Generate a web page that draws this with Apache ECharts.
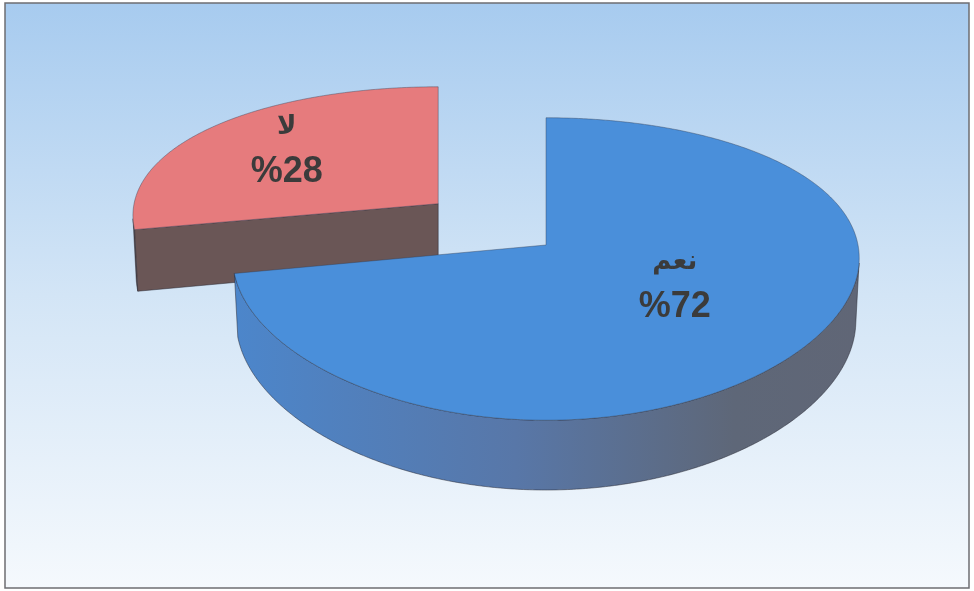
<!DOCTYPE html>
<html>
<head>
<meta charset="utf-8">
<script src="https://cdn.jsdelivr.net/npm/echarts@6/dist/echarts.min.js"></script>
<style>
html, body { margin: 0; padding: 0; background: #fff; }
#main { width: 974px; height: 591px; }
</style>
</head>
<body>
<div id="main"></div>
<script>
// data
var categories = ['نعم', 'لا'];
var values = [72, 28];
var percentLabels = ['%72', '%28'];

// 3D pie look (projection of a flat disk seen from above)
var CX = 546, CY = 245;      // where the pie centre lands
var SCALE = 312;             // half width of the pie
var PX = 0.1, PY = 0.18;     // perspective strength, horizontal / vertical
var ELEV = 28.2 * Math.PI / 180;
var DEPTH = 0.231;           // thickness, in radii
var sinE = Math.sin(ELEV), cosE = Math.cos(ELEV);

var explode = [0, 0.46];
var labelR = [0.52, 0.67];
var labelDY = [-11, 1];
var topColors = ['#4a8fda', '#e67b7d'];
var faceColors = ['#52709f', '#6a5656'];
var wallStops = [
    [{ offset: 0, color: '#4c86cb' }, { offset: 0.45, color: '#5877a8' }, { offset: 0.8, color: '#5e6778' }, { offset: 1, color: '#606676' }],
    [{ offset: 0, color: '#6a5656' }, { offset: 1, color: '#6a5656' }]
];

// (ou, ov): slice offset, (u, v, w): point relative to the slice apex
function project(ou, ov, u, v, w) {
    var d = (ov + v) * cosE - w * sinE;
    return [
        CX + SCALE * (ou / (1 + PX * ov * cosE) + u / (1 + PX * d)),
        CY - SCALE * ((ov + v) * sinE + w * cosE) / (1 + PY * d)
    ];
}

function area(pts) {
    var s = 0;
    for (var i = 0; i < pts.length; i++) {
        var p = pts[i], q = pts[(i + 1) % pts.length];
        s += p[0] * q[1] - q[0] * p[1];
    }
    return s / 2;
}

// winding of a wall piece that faces the viewer (front of the pie)
var FRONT = (function () {
    var a = Math.PI, b = Math.PI + 0.05;
    return area([project(0, 0, Math.sin(a), Math.cos(a), 0), project(0, 0, Math.sin(b), Math.cos(b), 0),
        project(0, 0, Math.sin(b), Math.cos(b), -DEPTH), project(0, 0, Math.sin(a), Math.cos(a), -DEPTH)]) > 0;
})();

function faces(pts) {
    var s = area(pts);
    return Math.abs(s) > 0.5 && (s > 0) === FRONT;
}

var total = 0;
for (var i = 0; i < values.length; i++) total += values[i];

function renderItem(params, api) {
    var idx = params.dataIndex;
    var before = 0;
    for (var j = 0; j < idx; j++) before += values[j];
    var a0 = before / total * Math.PI * 2;
    var a1 = (before + values[idx]) / total * Math.PI * 2;
    var mid = (a0 + a1) / 2;
    var ou = explode[idx] * Math.sin(mid), ov = explode[idx] * Math.cos(mid);
    var base = Math.round((2 - ov) * 10);
    var children = [];
    var edge = 'rgba(40,40,50,0.5)';

    function rim(a, w) {
        return project(ou, ov, Math.sin(a), Math.cos(a), w);
    }
    function apex(w) {
        return project(ou, ov, 0, 0, w);
    }

    // outer wall, only the parts facing the viewer
    var steps = Math.ceil((a1 - a0) / (0.5 * Math.PI / 180));
    var st = (a1 - a0) / steps;
    var run = null;
    var runs = [];
    for (var s = 0; s < steps; s++) {
        var t0 = a0 + s * st, t1 = t0 + st;
        if (faces([rim(t0, 0), rim(t1, 0), rim(t1, -DEPTH), rim(t0, -DEPTH)])) {
            if (!run) { run = [t0, t1]; runs.push(run); }
            else run[1] = t1;
        } else {
            run = null;
        }
    }
    runs.forEach(function (r) {
        var n = Math.max(2, Math.round((r[1] - r[0]) / st));
        var pts = [], bot = [];
        for (var k = 0; k <= n; k++) {
            var a = r[0] + (r[1] - r[0]) * k / n;
            pts.push(rim(a, 0));
            bot.push(rim(a, -DEPTH));
        }
        children.push({
            type: 'polygon',
            z2: base,
            shape: { points: pts.concat(bot.reverse()) },
            style: {
                fill: { type: 'linear', x: 0, y: 0, x2: 1, y2: 0, colorStops: wallStops[idx] },
                stroke: edge, lineWidth: 1
            }
        });
    });

    // cut faces
    var startFace = [apex(0), rim(a0, 0), rim(a0, -DEPTH), apex(-DEPTH)];
    var endFace = [rim(a1, 0), apex(0), apex(-DEPTH), rim(a1, -DEPTH)];
    [startFace, endFace].forEach(function (f) {
        if (!faces(f)) return;
        children.push({
            type: 'polygon',
            z2: base + 1,
            shape: { points: f },
            style: { fill: faceColors[idx], stroke: edge, lineWidth: 1 }
        });
    });

    // top face
    var topPts = [apex(0)];
    var nTop = Math.ceil((a1 - a0) / (Math.PI / 360));
    for (var m = 0; m <= nTop; m++) topPts.push(rim(a0 + (a1 - a0) * m / nTop, 0));
    children.push({
        type: 'polygon',
        z2: base + 2,
        shape: { points: topPts },
        style: { fill: topColors[idx], stroke: 'rgba(50,60,80,0.4)', lineWidth: 1 }
    });

    // labels
    var lp = project(ou, ov, labelR[idx] * Math.sin(mid), labelR[idx] * Math.cos(mid), 0);
    var ly = lp[1] + labelDY[idx];
    var font = "bold {s}px 'Liberation Sans', 'DejaVu Sans', Arial, sans-serif";
    children.push({
        type: 'text', z2: 100,
        style: {
            text: categories[idx], x: lp[0], y: ly - 24,
            align: 'center', verticalAlign: 'middle',
            font: font.replace('{s}', 26), fill: '#3b3b3b',
            textShadowColor: 'rgba(255,255,210,0.6)', textShadowOffsetX: 1, textShadowOffsetY: 1
        }
    });
    children.push({
        type: 'text', z2: 100,
        style: {
            text: percentLabels[idx], x: lp[0], y: ly + 21,
            align: 'center', verticalAlign: 'middle',
            font: font.replace('{s}', 36), fill: '#3b3b3b',
            textShadowColor: 'rgba(255,255,210,0.6)', textShadowOffsetX: 1, textShadowOffsetY: 1
        }
    });

    return { type: 'group', children: children };
}

var seriesData = [];
for (var d = 0; d < values.length; d++) {
    seriesData.push({ name: categories[d], value: values[d] });
}

var myChart = echarts.init(document.getElementById('main'));

var option = {
    animation: false,
    graphic: [{
        type: 'rect',
        z: -100,
        silent: true,
        shape: { x: 5, y: 3, width: 964, height: 585 },
        style: {
            fill: {
                type: 'linear', x: 0, y: 0, x2: 0, y2: 1,
                colorStops: [
                    { offset: 0, color: '#a7cbef' },
                    { offset: 0.5, color: '#d3e5f6' },
                    { offset: 1, color: '#f5f9fd' }
                ]
            },
            stroke: '#6d6d72',
            lineWidth: 1.5
        }
    }],
    series: [{
        type: 'custom',
        coordinateSystem: 'none',
        renderItem: renderItem,
        data: seriesData
    }]
};

myChart.setOption(option);
</script>
</body>
</html>
